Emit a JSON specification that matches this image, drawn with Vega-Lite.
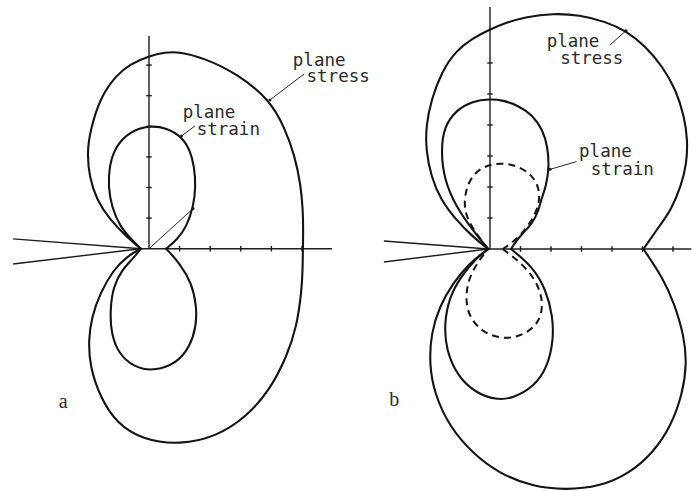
{
  "$schema": "https://vega.github.io/schema/vega-lite/v6.json",
  "padding": 0,
  "spacing": 0,
  "bounds": "flush",
  "background": "white",
  "config": {"view": {"stroke": null}},
  "datasets": {
    "curvesA": [
      {"curve": "plane stress", "half": "upper", "i": 0, "x": -0.27, "y": 0},
      {"curve": "plane stress", "half": "upper", "i": 1, "x": -0.73, "y": 0.39},
      {"curve": "plane stress", "half": "upper", "i": 2, "x": -1.27, "y": 0.94},
      {"curve": "plane stress", "half": "upper", "i": 3, "x": -1.71, "y": 1.59},
      {"curve": "plane stress", "half": "upper", "i": 4, "x": -1.95, "y": 2.35},
      {"curve": "plane stress", "half": "upper", "i": 5, "x": -2.02, "y": 3.13},
      {"curve": "plane stress", "half": "upper", "i": 6, "x": -1.93, "y": 3.82},
      {"curve": "plane stress", "half": "upper", "i": 7, "x": -1.6, "y": 4.94},
      {"curve": "plane stress", "half": "upper", "i": 8, "x": -1.06, "y": 5.68},
      {"curve": "plane stress", "half": "upper", "i": 9, "x": -0.62, "y": 6.03},
      {"curve": "plane stress", "half": "upper", "i": 10, "x": 0, "y": 6.3},
      {"curve": "plane stress", "half": "upper", "i": 11, "x": 0.52, "y": 6.42},
      {"curve": "plane stress", "half": "upper", "i": 12, "x": 1.01, "y": 6.43},
      {"curve": "plane stress", "half": "upper", "i": 13, "x": 1.77, "y": 6.24},
      {"curve": "plane stress", "half": "upper", "i": 14, "x": 2.87, "y": 5.73},
      {"curve": "plane stress", "half": "upper", "i": 15, "x": 3.95, "y": 4.86},
      {"curve": "plane stress", "half": "upper", "i": 16, "x": 4.42, "y": 3.98},
      {"curve": "plane stress", "half": "upper", "i": 17, "x": 4.76, "y": 3.06},
      {"curve": "plane stress", "half": "upper", "i": 18, "x": 4.96, "y": 2.08},
      {"curve": "plane stress", "half": "upper", "i": 19, "x": 5.03, "y": 1.26},
      {"curve": "plane stress", "half": "upper", "i": 20, "x": 5.04, "y": 0.61},
      {"curve": "plane stress", "half": "upper", "i": 21, "x": 5.03, "y": 0},
      {"curve": "plane stress", "half": "lower", "i": 0, "x": 5.03, "y": 0},
      {"curve": "plane stress", "half": "lower", "i": 1, "x": 5.02, "y": -0.7},
      {"curve": "plane stress", "half": "lower", "i": 2, "x": 4.99, "y": -1.35},
      {"curve": "plane stress", "half": "lower", "i": 3, "x": 4.83, "y": -2.55},
      {"curve": "plane stress", "half": "lower", "i": 4, "x": 4.5, "y": -3.53},
      {"curve": "plane stress", "half": "lower", "i": 5, "x": 3.95, "y": -4.62},
      {"curve": "plane stress", "half": "lower", "i": 6, "x": 3.19, "y": -5.49},
      {"curve": "plane stress", "half": "lower", "i": 7, "x": 2.21, "y": -6.14},
      {"curve": "plane stress", "half": "lower", "i": 8, "x": 1.01, "y": -6.41},
      {"curve": "plane stress", "half": "lower", "i": 9, "x": -0.19, "y": -6.25},
      {"curve": "plane stress", "half": "lower", "i": 10, "x": -1.06, "y": -5.71},
      {"curve": "plane stress", "half": "lower", "i": 11, "x": -1.6, "y": -4.84},
      {"curve": "plane stress", "half": "lower", "i": 12, "x": -1.93, "y": -3.86},
      {"curve": "plane stress", "half": "lower", "i": 13, "x": -1.98, "y": -2.98},
      {"curve": "plane stress", "half": "lower", "i": 14, "x": -1.87, "y": -2.22},
      {"curve": "plane stress", "half": "lower", "i": 15, "x": -1.6, "y": -1.46},
      {"curve": "plane stress", "half": "lower", "i": 16, "x": -1.17, "y": -0.7},
      {"curve": "plane stress", "half": "lower", "i": 17, "x": -0.73, "y": -0.26},
      {"curve": "plane stress", "half": "lower", "i": 18, "x": -0.27, "y": 0},
      {"curve": "plane strain", "half": "upper", "i": 0, "x": -0.27, "y": 0},
      {"curve": "plane strain", "half": "upper", "i": 1, "x": -0.51, "y": 0.23},
      {"curve": "plane strain", "half": "upper", "i": 2, "x": -0.95, "y": 0.72},
      {"curve": "plane strain", "half": "upper", "i": 3, "x": -1.22, "y": 1.37},
      {"curve": "plane strain", "half": "upper", "i": 4, "x": -1.33, "y": 2.03},
      {"curve": "plane strain", "half": "upper", "i": 5, "x": -1.3, "y": 2.68},
      {"curve": "plane strain", "half": "upper", "i": 6, "x": -1.11, "y": 3.33},
      {"curve": "plane strain", "half": "upper", "i": 7, "x": -0.62, "y": 3.84},
      {"curve": "plane strain", "half": "upper", "i": 8, "x": 0.02, "y": 4.03},
      {"curve": "plane strain", "half": "upper", "i": 9, "x": 0.58, "y": 3.95},
      {"curve": "plane strain", "half": "upper", "i": 10, "x": 1.07, "y": 3.66},
      {"curve": "plane strain", "half": "upper", "i": 11, "x": 1.34, "y": 3.23},
      {"curve": "plane strain", "half": "upper", "i": 12, "x": 1.48, "y": 2.68},
      {"curve": "plane strain", "half": "upper", "i": 13, "x": 1.53, "y": 2.03},
      {"curve": "plane strain", "half": "upper", "i": 14, "x": 1.45, "y": 1.37},
      {"curve": "plane strain", "half": "upper", "i": 15, "x": 1.23, "y": 0.72},
      {"curve": "plane strain", "half": "upper", "i": 16, "x": 0.91, "y": 0.28},
      {"curve": "plane strain", "half": "upper", "i": 17, "x": 0.56, "y": 0},
      {"curve": "plane strain", "half": "lower", "i": 0, "x": 0.56, "y": 0},
      {"curve": "plane strain", "half": "lower", "i": 1, "x": 1.01, "y": -0.48},
      {"curve": "plane strain", "half": "lower", "i": 2, "x": 1.4, "y": -1.13},
      {"curve": "plane strain", "half": "lower", "i": 3, "x": 1.56, "y": -1.9},
      {"curve": "plane strain", "half": "lower", "i": 4, "x": 1.54, "y": -2.55},
      {"curve": "plane strain", "half": "lower", "i": 5, "x": 1.34, "y": -3.2},
      {"curve": "plane strain", "half": "lower", "i": 6, "x": 0.91, "y": -3.75},
      {"curve": "plane strain", "half": "lower", "i": 7, "x": 0.14, "y": -4.01},
      {"curve": "plane strain", "half": "lower", "i": 8, "x": -0.51, "y": -3.86},
      {"curve": "plane strain", "half": "lower", "i": 9, "x": -1.0, "y": -3.42},
      {"curve": "plane strain", "half": "lower", "i": 10, "x": -1.24, "y": -2.76},
      {"curve": "plane strain", "half": "lower", "i": 11, "x": -1.27, "y": -2.0},
      {"curve": "plane strain", "half": "lower", "i": 12, "x": -1.17, "y": -1.24},
      {"curve": "plane strain", "half": "lower", "i": 13, "x": -0.89, "y": -0.7},
      {"curve": "plane strain", "half": "lower", "i": 14, "x": -0.51, "y": -0.31},
      {"curve": "plane strain", "half": "lower", "i": 15, "x": -0.27, "y": 0}
    ],
    "curvesB": [
      {"curve": "plane stress", "half": "upper", "i": 0, "x": -0.06, "y": 0},
      {"curve": "plane stress", "half": "upper", "i": 1, "x": -0.57, "y": 0.4},
      {"curve": "plane stress", "half": "upper", "i": 2, "x": -1.11, "y": 0.94},
      {"curve": "plane stress", "half": "upper", "i": 3, "x": -1.61, "y": 1.58},
      {"curve": "plane stress", "half": "upper", "i": 4, "x": -1.93, "y": 2.33},
      {"curve": "plane stress", "half": "upper", "i": 5, "x": -2.1, "y": 3.19},
      {"curve": "plane stress", "half": "upper", "i": 6, "x": -2.1, "y": 3.95},
      {"curve": "plane stress", "half": "upper", "i": 7, "x": -1.93, "y": 4.81},
      {"curve": "plane stress", "half": "upper", "i": 8, "x": -1.57, "y": 5.74},
      {"curve": "plane stress", "half": "upper", "i": 9, "x": -1.13, "y": 6.38},
      {"curve": "plane stress", "half": "upper", "i": 10, "x": -0.57, "y": 6.8},
      {"curve": "plane stress", "half": "upper", "i": 11, "x": 0, "y": 7.08},
      {"curve": "plane stress", "half": "upper", "i": 12, "x": 0.52, "y": 7.3},
      {"curve": "plane stress", "half": "upper", "i": 13, "x": 1.18, "y": 7.49},
      {"curve": "plane stress", "half": "upper", "i": 14, "x": 2.06, "y": 7.6},
      {"curve": "plane stress", "half": "upper", "i": 15, "x": 2.93, "y": 7.55},
      {"curve": "plane stress", "half": "upper", "i": 16, "x": 3.8, "y": 7.33},
      {"curve": "plane stress", "half": "upper", "i": 17, "x": 4.46, "y": 7.04},
      {"curve": "plane stress", "half": "upper", "i": 18, "x": 5.11, "y": 6.53},
      {"curve": "plane stress", "half": "upper", "i": 19, "x": 5.66, "y": 5.88},
      {"curve": "plane stress", "half": "upper", "i": 20, "x": 6.1, "y": 5.13},
      {"curve": "plane stress", "half": "upper", "i": 21, "x": 6.37, "y": 4.27},
      {"curve": "plane stress", "half": "upper", "i": 22, "x": 6.48, "y": 3.52},
      {"curve": "plane stress", "half": "upper", "i": 23, "x": 6.45, "y": 2.76},
      {"curve": "plane stress", "half": "upper", "i": 24, "x": 6.26, "y": 2.01},
      {"curve": "plane stress", "half": "upper", "i": 25, "x": 5.93, "y": 1.26},
      {"curve": "plane stress", "half": "upper", "i": 26, "x": 5.67, "y": 0.9},
      {"curve": "plane stress", "half": "upper", "i": 27, "x": 5.03, "y": 0},
      {"curve": "plane stress", "half": "lower", "i": 0, "x": 5.03, "y": 0},
      {"curve": "plane stress", "half": "lower", "i": 1, "x": 5.68, "y": -0.95},
      {"curve": "plane stress", "half": "lower", "i": 2, "x": 6.04, "y": -1.75},
      {"curve": "plane stress", "half": "lower", "i": 3, "x": 6.37, "y": -2.83},
      {"curve": "plane stress", "half": "lower", "i": 4, "x": 6.45, "y": -3.69},
      {"curve": "plane stress", "half": "lower", "i": 5, "x": 6.32, "y": -4.65},
      {"curve": "plane stress", "half": "lower", "i": 6, "x": 5.93, "y": -5.73},
      {"curve": "plane stress", "half": "lower", "i": 7, "x": 5.33, "y": -6.59},
      {"curve": "plane stress", "half": "lower", "i": 8, "x": 4.57, "y": -7.24},
      {"curve": "plane stress", "half": "lower", "i": 9, "x": 3.58, "y": -7.67},
      {"curve": "plane stress", "half": "lower", "i": 10, "x": 2.49, "y": -7.77},
      {"curve": "plane stress", "half": "lower", "i": 11, "x": 1.4, "y": -7.67},
      {"curve": "plane stress", "half": "lower", "i": 12, "x": 0.3, "y": -7.24},
      {"curve": "plane stress", "half": "lower", "i": 13, "x": -0.57, "y": -6.59},
      {"curve": "plane stress", "half": "lower", "i": 14, "x": -1.33, "y": -5.73},
      {"curve": "plane stress", "half": "lower", "i": 15, "x": -1.83, "y": -4.65},
      {"curve": "plane stress", "half": "lower", "i": 16, "x": -1.99, "y": -3.69},
      {"curve": "plane stress", "half": "lower", "i": 17, "x": -1.93, "y": -2.72},
      {"curve": "plane stress", "half": "lower", "i": 18, "x": -1.66, "y": -1.86},
      {"curve": "plane stress", "half": "lower", "i": 19, "x": -1.22, "y": -1.11},
      {"curve": "plane stress", "half": "lower", "i": 20, "x": -0.68, "y": -0.46},
      {"curve": "plane stress", "half": "lower", "i": 21, "x": -0.24, "y": -0.14},
      {"curve": "plane stress", "half": "lower", "i": 22, "x": -0.06, "y": 0},
      {"curve": "plane strain", "half": "upper", "i": 0, "x": -0.06, "y": 0},
      {"curve": "plane strain", "half": "upper", "i": 1, "x": -0.57, "y": 0.61},
      {"curve": "plane strain", "half": "upper", "i": 2, "x": -1.11, "y": 1.36},
      {"curve": "plane strain", "half": "upper", "i": 3, "x": -1.5, "y": 2.23},
      {"curve": "plane strain", "half": "upper", "i": 4, "x": -1.61, "y": 3.19},
      {"curve": "plane strain", "half": "upper", "i": 5, "x": -1.5, "y": 3.95},
      {"curve": "plane strain", "half": "upper", "i": 6, "x": -1.11, "y": 4.48},
      {"curve": "plane strain", "half": "upper", "i": 7, "x": -0.57, "y": 4.77},
      {"curve": "plane strain", "half": "upper", "i": 8, "x": 0, "y": 4.84},
      {"curve": "plane strain", "half": "upper", "i": 9, "x": 0.42, "y": 4.8},
      {"curve": "plane strain", "half": "upper", "i": 10, "x": 0.92, "y": 4.63},
      {"curve": "plane strain", "half": "upper", "i": 11, "x": 1.4, "y": 4.32},
      {"curve": "plane strain", "half": "upper", "i": 12, "x": 1.73, "y": 3.84},
      {"curve": "plane strain", "half": "upper", "i": 13, "x": 1.89, "y": 3.3},
      {"curve": "plane strain", "half": "upper", "i": 14, "x": 1.94, "y": 2.65},
      {"curve": "plane strain", "half": "upper", "i": 15, "x": 1.84, "y": 2.01},
      {"curve": "plane strain", "half": "upper", "i": 16, "x": 1.67, "y": 1.58},
      {"curve": "plane strain", "half": "upper", "i": 17, "x": 1.6, "y": 1.26},
      {"curve": "plane strain", "half": "upper", "i": 18, "x": 1.4, "y": 0.83},
      {"curve": "plane strain", "half": "upper", "i": 19, "x": 0.96, "y": 0.4},
      {"curve": "plane strain", "half": "upper", "i": 20, "x": 0.69, "y": 0},
      {"curve": "plane strain", "half": "lower", "i": 0, "x": 0.69, "y": 0},
      {"curve": "plane strain", "half": "lower", "i": 1, "x": 1.4, "y": -0.57},
      {"curve": "plane strain", "half": "lower", "i": 2, "x": 1.84, "y": -1.32},
      {"curve": "plane strain", "half": "lower", "i": 3, "x": 2.06, "y": -2.18},
      {"curve": "plane strain", "half": "lower", "i": 4, "x": 2.08, "y": -2.94},
      {"curve": "plane strain", "half": "lower", "i": 5, "x": 1.89, "y": -3.8},
      {"curve": "plane strain", "half": "lower", "i": 6, "x": 1.45, "y": -4.44},
      {"curve": "plane strain", "half": "lower", "i": 7, "x": 0.74, "y": -4.82},
      {"curve": "plane strain", "half": "lower", "i": 8, "x": 0.2, "y": -4.87},
      {"curve": "plane strain", "half": "lower", "i": 9, "x": -0.46, "y": -4.65},
      {"curve": "plane strain", "half": "lower", "i": 10, "x": -1.06, "y": -4.11},
      {"curve": "plane strain", "half": "lower", "i": 11, "x": -1.44, "y": -3.26},
      {"curve": "plane strain", "half": "lower", "i": 12, "x": -1.5, "y": -2.4},
      {"curve": "plane strain", "half": "lower", "i": 13, "x": -1.33, "y": -1.54},
      {"curve": "plane strain", "half": "lower", "i": 14, "x": -0.95, "y": -0.89},
      {"curve": "plane strain", "half": "lower", "i": 15, "x": -0.46, "y": -0.3},
      {"curve": "plane strain", "half": "lower", "i": 16, "x": -0.06, "y": 0},
      {"curve": "plane strain, dashed", "half": "upper", "i": 0, "x": -0.06, "y": 0},
      {"curve": "plane strain, dashed", "half": "upper", "i": 1, "x": -0.46, "y": 0.51},
      {"curve": "plane strain, dashed", "half": "upper", "i": 2, "x": -0.79, "y": 1.04},
      {"curve": "plane strain, dashed", "half": "upper", "i": 3, "x": -0.86, "y": 1.58},
      {"curve": "plane strain, dashed", "half": "upper", "i": 4, "x": -0.7, "y": 2.23},
      {"curve": "plane strain, dashed", "half": "upper", "i": 5, "x": -0.26, "y": 2.67},
      {"curve": "plane strain, dashed", "half": "upper", "i": 6, "x": 0.36, "y": 2.79},
      {"curve": "plane strain, dashed", "half": "upper", "i": 7, "x": 0.96, "y": 2.67},
      {"curve": "plane strain, dashed", "half": "upper", "i": 8, "x": 1.45, "y": 2.33},
      {"curve": "plane strain, dashed", "half": "upper", "i": 9, "x": 1.66, "y": 1.8},
      {"curve": "plane strain, dashed", "half": "upper", "i": 10, "x": 1.56, "y": 1.26},
      {"curve": "plane strain, dashed", "half": "upper", "i": 11, "x": 1.24, "y": 0.72},
      {"curve": "plane strain, dashed", "half": "upper", "i": 12, "x": 0.85, "y": 0.29},
      {"curve": "plane strain, dashed", "half": "upper", "i": 13, "x": 0.42, "y": 0},
      {"curve": "plane strain, dashed", "half": "lower", "i": 0, "x": 0.42, "y": 0},
      {"curve": "plane strain, dashed", "half": "lower", "i": 1, "x": 1.18, "y": -0.57},
      {"curve": "plane strain, dashed", "half": "lower", "i": 2, "x": 1.62, "y": -1.22},
      {"curve": "plane strain, dashed", "half": "lower", "i": 3, "x": 1.75, "y": -1.86},
      {"curve": "plane strain, dashed", "half": "lower", "i": 4, "x": 1.58, "y": -2.42},
      {"curve": "plane strain, dashed", "half": "lower", "i": 5, "x": 1.07, "y": -2.8},
      {"curve": "plane strain, dashed", "half": "lower", "i": 6, "x": 0.42, "y": -2.91},
      {"curve": "plane strain, dashed", "half": "lower", "i": 7, "x": -0.24, "y": -2.7},
      {"curve": "plane strain, dashed", "half": "lower", "i": 8, "x": -0.7, "y": -2.18},
      {"curve": "plane strain, dashed", "half": "lower", "i": 9, "x": -0.81, "y": -1.54},
      {"curve": "plane strain, dashed", "half": "lower", "i": 10, "x": -0.68, "y": -0.89},
      {"curve": "plane strain, dashed", "half": "lower", "i": 11, "x": -0.35, "y": -0.35},
      {"curve": "plane strain, dashed", "half": "lower", "i": 12, "x": -0.06, "y": 0}
    ],
    "linesA": [
      {"part": "crack", "x": -4.44, "y": 0.32, "x2": -0.27, "y2": 0},
      {"part": "crack", "x": -4.44, "y": -0.5, "x2": -0.27, "y2": 0},
      {"part": "axis", "x": -0.27, "y": 0, "x2": 5.98, "y2": 0},
      {"part": "axis", "x": 0, "y": 0, "x2": 0, "y2": 6.95},
      {"part": "tick", "x": 1, "y": -0.09, "x2": 1, "y2": 0.09},
      {"part": "tick", "x": 2, "y": -0.09, "x2": 2, "y2": 0.09},
      {"part": "tick", "x": 3, "y": -0.09, "x2": 3, "y2": 0.09},
      {"part": "tick", "x": 4, "y": -0.09, "x2": 4, "y2": 0.09},
      {"part": "tick", "x": 5, "y": -0.09, "x2": 5, "y2": 0.09},
      {"part": "tick", "x": -0.09, "y": 1, "x2": 0.09, "y2": 1},
      {"part": "tick", "x": -0.09, "y": 2, "x2": 0.09, "y2": 2},
      {"part": "tick", "x": -0.09, "y": 3, "x2": 0.09, "y2": 3},
      {"part": "tick", "x": -0.09, "y": 4, "x2": 0.09, "y2": 4},
      {"part": "tick", "x": -0.09, "y": 5, "x2": 0.09, "y2": 5},
      {"part": "tick", "x": -0.09, "y": 6, "x2": 0.09, "y2": 6},
      {"part": "leader", "x": 0, "y": 0, "x2": 1.44, "y2": 1.31},
      {"part": "leader", "x": 5.07, "y": 5.71, "x2": 3.95, "y2": 4.86},
      {"part": "leader", "x": 1.5, "y": 4.01, "x2": 1.06, "y2": 3.68}
    ],
    "linesB": [
      {"part": "crack", "x": -3.48, "y": 0.26, "x2": -0.06, "y2": 0},
      {"part": "crack", "x": -3.48, "y": -0.42, "x2": -0.06, "y2": 0},
      {"part": "axis", "x": -0.06, "y": 0, "x2": 6.6, "y2": 0},
      {"part": "axis", "x": 0, "y": 0, "x2": 0, "y2": 7.81},
      {"part": "tick", "x": 1, "y": -0.09, "x2": 1, "y2": 0.09},
      {"part": "tick", "x": 2, "y": -0.09, "x2": 2, "y2": 0.09},
      {"part": "tick", "x": 3, "y": -0.09, "x2": 3, "y2": 0.09},
      {"part": "tick", "x": 4, "y": -0.09, "x2": 4, "y2": 0.09},
      {"part": "tick", "x": 5, "y": -0.09, "x2": 5, "y2": 0.09},
      {"part": "tick", "x": 6, "y": -0.09, "x2": 6, "y2": 0.09},
      {"part": "tick", "x": -0.09, "y": 1, "x2": 0.09, "y2": 1},
      {"part": "tick", "x": -0.09, "y": 2, "x2": 0.09, "y2": 2},
      {"part": "tick", "x": -0.09, "y": 3, "x2": 0.09, "y2": 3},
      {"part": "tick", "x": -0.09, "y": 4, "x2": 0.09, "y2": 4},
      {"part": "tick", "x": -0.09, "y": 5, "x2": 0.09, "y2": 5},
      {"part": "tick", "x": -0.09, "y": 6, "x2": 0.09, "y2": 6},
      {"part": "leader", "x": 3.93, "y": 6.58, "x2": 4.46, "y2": 7.04},
      {"part": "leader", "x": 2.84, "y": 2.82, "x2": 1.97, "y2": 2.57}
    ],
    "labelsA": [
      {"kind": "name", "text": "plane", "x": 4.7, "y": 5.97},
      {"kind": "name", "text": "stress", "x": 5.15, "y": 5.46},
      {"kind": "name", "text": "plane", "x": 1.1, "y": 4.26},
      {"kind": "name", "text": "strain", "x": 1.56, "y": 3.72},
      {"kind": "panel", "text": "a", "x": -2.8, "y": -5.22}
    ],
    "labelsB": [
      {"kind": "name", "text": "plane", "x": 1.86, "y": 6.53},
      {"kind": "name", "text": "stress", "x": 2.3, "y": 5.96},
      {"kind": "name", "text": "plane", "x": 2.92, "y": 2.96},
      {"kind": "name", "text": "strain", "x": 3.3, "y": 2.39},
      {"kind": "panel", "text": "b", "x": -3.14, "y": -5.06}
    ]
  },
  "hconcat": [
    {
      "width": 346,
      "height": 491,
      "encoding": {
        "x": {"field": "x", "type": "quantitative", "scale": {"domain": [-4.869, 6.438], "nice": false, "zero": false}, "axis": null},
        "y": {"field": "y", "type": "quantitative", "scale": {"domain": [-7.918, 8.127], "nice": false, "zero": false}, "axis": null}
      },
      "layer": [
        {
          "data": {"name": "linesA"},
          "transform": [{"filter": "datum.part !== 'leader'"}],
          "mark": {"type": "rule", "color": "#1c1c1c", "strokeWidth": 1.4},
          "encoding": {"x2": {"field": "x2"}, "y2": {"field": "y2"}}
        },
        {
          "data": {"name": "linesA"},
          "transform": [{"filter": "datum.part === 'leader'"}],
          "mark": {"type": "rule", "color": "#2a2a2a", "strokeWidth": 1},
          "encoding": {"x2": {"field": "x2"}, "y2": {"field": "y2"}}
        },
        {
          "data": {"name": "linesA"},
          "transform": [{"filter": "datum.part === 'leader'"}],
          "mark": {"type": "point", "filled": true, "color": "#1c1c1c", "size": 9, "opacity": 1},
          "encoding": {"x": {"field": "x2", "type": "quantitative"}, "y": {"field": "y2", "type": "quantitative"}}
        },
        {
          "data": {"name": "curvesA"},
          "mark": {"type": "line", "interpolate": "basis", "color": "#141414", "strokeWidth": 2.1, "strokeCap": "round"},
          "encoding": {
            "detail": [{"field": "curve"}, {"field": "half"}],
            "order": {"field": "i", "type": "quantitative"}
          }
        },
        {
          "data": {"name": "labelsA"},
          "transform": [{"filter": "datum.kind === 'name'"}],
          "mark": {"type": "text", "align": "left", "baseline": "alphabetic", "font": "DejaVu Sans Mono", "fontSize": 17.5, "color": "#2a2a2a"},
          "encoding": {"text": {"field": "text"}}
        },
        {
          "data": {"name": "labelsA"},
          "transform": [{"filter": "datum.kind === 'panel'"}],
          "mark": {"type": "text", "align": "center", "baseline": "alphabetic", "font": "Liberation Serif", "fontSize": 20, "color": "#2a2a2a"},
          "encoding": {"text": {"field": "text"}}
        }
      ]
    },
    {
      "width": 346,
      "height": 491,
      "encoding": {
        "x": {"field": "x", "type": "quantitative", "scale": {"domain": [-4.721, 6.623], "nice": false, "zero": false}, "axis": null},
        "y": {"field": "y", "type": "quantitative", "scale": {"domain": [-7.806, 8.032], "nice": false, "zero": false}, "axis": null}
      },
      "layer": [
        {
          "data": {"name": "linesB"},
          "transform": [{"filter": "datum.part !== 'leader'"}],
          "mark": {"type": "rule", "color": "#1c1c1c", "strokeWidth": 1.4},
          "encoding": {"x2": {"field": "x2"}, "y2": {"field": "y2"}}
        },
        {
          "data": {"name": "linesB"},
          "transform": [{"filter": "datum.part === 'leader'"}],
          "mark": {"type": "rule", "color": "#2a2a2a", "strokeWidth": 1},
          "encoding": {"x2": {"field": "x2"}, "y2": {"field": "y2"}}
        },
        {
          "data": {"name": "linesB"},
          "transform": [{"filter": "datum.part === 'leader'"}],
          "mark": {"type": "point", "filled": true, "color": "#1c1c1c", "size": 9, "opacity": 1},
          "encoding": {"x": {"field": "x2", "type": "quantitative"}, "y": {"field": "y2", "type": "quantitative"}}
        },
        {
          "data": {"name": "curvesB"},
          "transform": [{"filter": "datum.curve !== 'plane strain, dashed'"}],
          "mark": {"type": "line", "interpolate": "basis", "color": "#141414", "strokeWidth": 2.1, "strokeCap": "round"},
          "encoding": {
            "detail": [{"field": "curve"}, {"field": "half"}],
            "order": {"field": "i", "type": "quantitative"}
          }
        },
        {
          "data": {"name": "curvesB"},
          "transform": [{"filter": "datum.curve === 'plane strain, dashed'"}],
          "mark": {"type": "line", "interpolate": "basis", "color": "#141414", "strokeWidth": 2, "strokeDash": [7, 5]},
          "encoding": {
            "detail": [{"field": "curve"}, {"field": "half"}],
            "order": {"field": "i", "type": "quantitative"}
          }
        },
        {
          "data": {"name": "labelsB"},
          "transform": [{"filter": "datum.kind === 'name'"}],
          "mark": {"type": "text", "align": "left", "baseline": "alphabetic", "font": "DejaVu Sans Mono", "fontSize": 17.5, "color": "#2a2a2a"},
          "encoding": {"text": {"field": "text"}}
        },
        {
          "data": {"name": "labelsB"},
          "transform": [{"filter": "datum.kind === 'panel'"}],
          "mark": {"type": "text", "align": "center", "baseline": "alphabetic", "font": "Liberation Serif", "fontSize": 20, "color": "#2a2a2a"},
          "encoding": {"text": {"field": "text"}}
        }
      ]
    }
  ]
}
